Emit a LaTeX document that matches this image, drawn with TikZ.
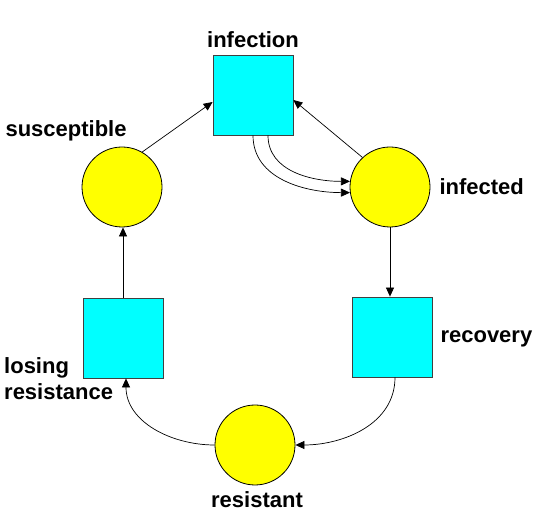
\documentclass[tikz,border=0pt]{standalone}
\usepackage{fontspec}
\setmainfont{Liberation Sans}
\usetikzlibrary{arrows.meta}
\definecolor{placeyellow}{RGB}{255,255,0}
\definecolor{transcyan}{RGB}{0,255,255}

\begin{document}
\begin{tikzpicture}[x=1pt, y=1pt, font=\fontsize{22}{26}\selectfont\bfseries,
	place/.style={draw=black, circle, fill=placeyellow, minimum size=80pt, inner sep=0pt, line width=0.8pt},
	trans/.style={draw=black!75, rectangle, fill=transcyan, minimum size=80pt, inner sep=0pt, line width=0.8pt},
	arc/.style={-{Triangle[length=9pt,width=8pt]}, line width=0.7pt}]
				\useasboundingbox (0,0) rectangle (538,530);
				\node[trans] (infection) at (253,435) {};
				\node[place] (susceptible) at (122,343) {};
				\node[place] (infected) at (390,343) {};
				\node[trans] (losing) at (123,192) {};
				\node[trans] (recovery) at (392,193) {};
				\node[place] (resistant) at (255,85) {};
				
				\node[anchor=base] (infectionlbl) at (253,482) {infection};
				\node[anchor=base west] (susceptiblelbl) at (2,393) {susceptible};
				\node[anchor=base west] (infectedlbl) at (436,335) {infected};
				\node[anchor=base west] (recoverylbl) at (437,187) {recovery};
				\node[anchor=west, align=left, inner sep=0pt] (losinglbl) at (4,151) {losing\\resistance};
				\node[anchor=base] (resistantlbl) at (257,22) {resistant};
				
				\draw[arc] (susceptible.60) -- ([yshift=-7pt]infection.west);
				\draw[arc] (infected.133) -- ([yshift=-5pt]infection.east);
				\draw[arc] (infection.south) to[out=-90, in=180] (infected.188);
				\draw[arc] ([xshift=15pt]infection.south) to[out=-90, in=180] (infected.172);
				\draw[arc] (infected.south) -- (infected.south |- recovery.north);
				\draw[arc] ([xshift=3pt]recovery.south) to[out=-90, in=0] (resistant.east);
				\draw[arc] (resistant.west) to[out=180, in=-90] ([xshift=3pt]losing.south);
				\draw[arc] (losing.north) -- (losing.north |- susceptible.south);
			\end{tikzpicture}
\end{document}
